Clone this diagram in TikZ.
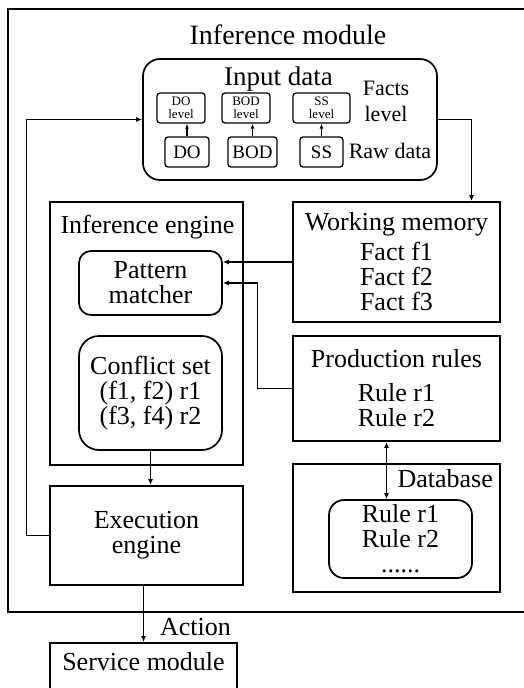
\documentclass[tikz,border=0pt]{standalone}
\usepackage{fontspec}
\setmainfont{Liberation Serif}
\usetikzlibrary{arrows.meta}
\begin{document}
\begin{tikzpicture}[x=1pt,y=-1pt]
    % Define styles for shapes
    \tikzset{
        box/.style={draw, line width=1.7pt, align=center, inner sep=0pt, font=\fontsize{26}{25}\selectfont},
        rbox/.style={box, rounded corners=12pt},
        smallbox/.style={draw, line width=1.3pt, rounded corners=3pt, align=center, inner sep=0pt},
        title/.style={inner sep=0pt, anchor=base, font=\fontsize{27}{27}\selectfont},
        arrow/.style={line width=1.2pt, -{Latex[length=6pt,width=5pt]}},
        dblarrow/.style={line width=1.2pt, {Latex[length=6pt,width=5pt]}-{Latex[length=6pt,width=5pt]}}
    }
    \useasboundingbox (0,0) rectangle (524,688);
    % Outer module
    \node[box, minimum width=522pt, minimum height=603pt] (mod) at (269,310.5) {};
    \node[title, font=\fontsize{28}{28}\selectfont] (modtitle) at (288,44) {Inference module};
    % Input data with its levels
    \node[box, rounded corners=17pt, minimum width=294pt, minimum height=121pt] (in) at (290,119.5) {};
    \node[title] (intitle) at (278.5,85) {Input data};
    \node[inner sep=0pt, align=center, anchor=base, font=\fontsize{22}{26}\selectfont] (facts) at (386,121) {Facts\\level};
    \node[inner sep=0pt, anchor=base, font=\fontsize{22}{22}\selectfont] (raw) at (390,158) {Raw data};
    \node[smallbox, minimum width=48pt, minimum height=30pt, font=\fontsize{13}{13}\selectfont] (dolvl) at (181,108) {DO\\level};
    \node[smallbox, minimum width=48pt, minimum height=30pt, font=\fontsize{13}{13}\selectfont] (bodlvl) at (246,108) {BOD\\level};
    \node[smallbox, minimum width=57pt, minimum height=30pt, font=\fontsize{13}{13}\selectfont] (sslvl) at (321.5,108) {SS\\level};
    \node[smallbox, minimum width=44pt, minimum height=30pt, font=\fontsize{19}{19}\selectfont] (do) at (187,152) {DO};
    \node[smallbox, minimum width=49pt, minimum height=30pt, font=\fontsize{19}{19}\selectfont] (bod) at (252.5,152) {BOD};
    \node[smallbox, minimum width=43pt, minimum height=30pt, font=\fontsize{19}{19}\selectfont] (ss) at (321.5,152) {SS};
    \draw[arrow, -{Latex[length=5pt,width=4pt]}] (do.north) -- (do.north |- dolvl.south);
    \draw[arrow, -{Latex[length=5pt,width=4pt]}] (bod.north) -- (bod.north |- bodlvl.south);
    \draw[arrow, -{Latex[length=5pt,width=4pt]}] (ss.north) -- (ss.north |- sslvl.south);
    % Inference engine
    \node[box, minimum width=193pt, minimum height=263pt] (ie) at (146.5,333.5) {};
    \node[title, font=\fontsize{26}{26}\selectfont] (ietitle) at (147.5,233) {Inference engine};
    \node[rbox, minimum width=143pt, minimum height=64pt] (pm) at (150.5,283) {Pattern\\matcher};
    \node[rbox, rounded corners=20pt, minimum width=143pt, minimum height=114pt] (cs) at (150.5,393) {Conflict set\\(f1, f2) r1\\(f3, f4) r2};
    \node[box, minimum width=193pt, minimum height=99pt] (ee) at (146.5,535.5) {Execution\\engine};
    % Memory, rules and database
    \node[box, minimum width=207pt, minimum height=120pt] (wm) at (396.5,262) {Working memory\\[5pt]Fact f1\\Fact f2\\Fact f3};
    \node[box, minimum width=207pt, minimum height=105pt] (pr) at (396.5,388.5) {Production rules\\[9pt]Rule r1\\Rule r2};
    \node[box, minimum width=207pt, minimum height=128pt] (db) at (396.5,528) {};
    \node[title, anchor=base east, font=\fontsize{26}{26}\selectfont] (dbtitle) at (493,487) {Database};
    \node[rbox, rounded corners=15pt, minimum width=143pt, minimum height=78pt] (dbin) at (400.5,539) {Rule r1\\Rule r2\\......};
    % Service module
    \node[box, anchor=north, minimum width=187pt, inner ysep=10pt, text height=18pt, text depth=30pt] (sm) at (143.5,642) {Service module};
    % Draw arrows
    \draw[arrow] (in.east) -| ([xshift=75pt]wm.north);
    \draw[arrow] (wm.west) -- (wm.west -| pm.east);
    \draw[arrow] (pr.west) -- ++(-35,0) |- (pm.east);
    \draw[arrow] (cs.south) -- (cs.south |- ee.north);
    \draw[arrow] (ee.west) -- ++(-23,0) |- (in.west);
    \coordinate (prdb) at ([xshift=-10pt]pr.south);
    \draw[dblarrow] (prdb) -- (prdb |- dbin.north);
    \draw[arrow] (ee.south -| sm.north) -- (sm.north)
        node[pos=0.74, anchor=west, inner sep=0pt, xshift=16pt, font=\fontsize{26}{26}\selectfont] (action) {Action};
\end{tikzpicture}
\end{document}
